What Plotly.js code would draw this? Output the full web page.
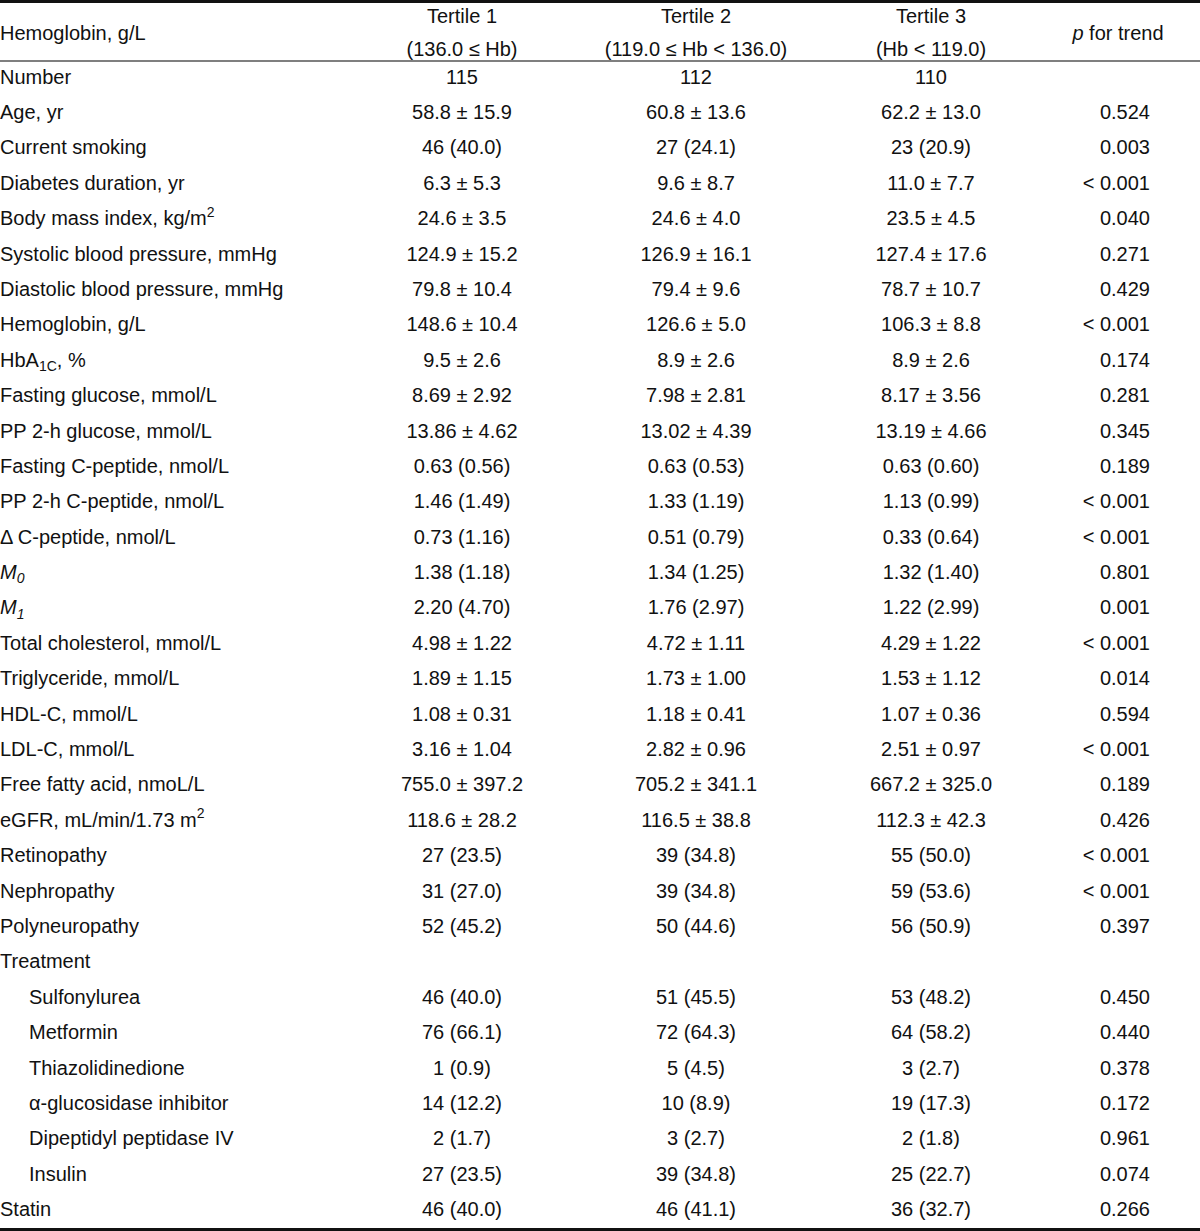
<!DOCTYPE html>
<html>
<head>
<meta charset="utf-8">
<script src="https://cdn.plot.ly/plotly-3.0.1.min.js"></script>
<style>html,body{margin:0;padding:0;background:#fff;}</style>
</head>
<body>
<div id="chart" style="width:1200px;height:1231px;"></div>
<script>
// ---------- data ----------
const headerLabel = "Hemoglobin, g/L";
const groupNames = ["Tertile 1", "Tertile 2", "Tertile 3"];
const groupRanges = ["(136.0 ≤ Hb)", "(119.0 ≤ Hb < 136.0)", "(Hb < 119.0)"];
const pHeader = "<i>p</i> for trend";

const labels = [
  "Number", "Age, yr", "Current smoking", "Diabetes duration, yr",
  "Body mass index, kg/m<sup>2</sup>", "Systolic blood pressure, mmHg",
  "Diastolic blood pressure, mmHg", "Hemoglobin, g/L", "HbA<sub>1C</sub>, %",
  "Fasting glucose, mmol/L", "PP 2-h glucose, mmol/L", "Fasting C-peptide, nmol/L",
  "PP 2-h C-peptide, nmol/L", "Δ C-peptide, nmol/L", "<i>M<sub>0</sub></i>", "<i>M<sub>1</sub></i>",
  "Total cholesterol, mmol/L", "Triglyceride, mmol/L", "HDL-C, mmol/L", "LDL-C, mmol/L",
  "Free fatty acid, nmoL/L", "eGFR, mL/min/1.73 m<sup>2</sup>", "Retinopathy", "Nephropathy",
  "Polyneuropathy", "Treatment", "Sulfonylurea", "Metformin", "Thiazolidinedione",
  "α-glucosidase inhibitor", "Dipeptidyl peptidase IV", "Insulin", "Statin"
];
// 1 = sub-item of "Treatment"
const level = [0,0,0,0,0,0,0,0,0,0,0,0,0,0,0,0,0,0,0,0,0,0,0,0,0,0,1,1,1,1,1,1,0];

const tertile1 = [
  "115", "58.8 ± 15.9", "46 (40.0)", "6.3 ± 5.3", "24.6 ± 3.5", "124.9 ± 15.2",
  "79.8 ± 10.4", "148.6 ± 10.4", "9.5 ± 2.6", "8.69 ± 2.92", "13.86 ± 4.62",
  "0.63 (0.56)", "1.46 (1.49)", "0.73 (1.16)", "1.38 (1.18)", "2.20 (4.70)",
  "4.98 ± 1.22", "1.89 ± 1.15", "1.08 ± 0.31", "3.16 ± 1.04", "755.0 ± 397.2",
  "118.6 ± 28.2", "27 (23.5)", "31 (27.0)", "52 (45.2)", "",
  "46 (40.0)", "76 (66.1)", "1 (0.9)", "14 (12.2)", "2 (1.7)", "27 (23.5)", "46 (40.0)"
];
const tertile2 = [
  "112", "60.8 ± 13.6", "27 (24.1)", "9.6 ± 8.7", "24.6 ± 4.0", "126.9 ± 16.1",
  "79.4 ± 9.6", "126.6 ± 5.0", "8.9 ± 2.6", "7.98 ± 2.81", "13.02 ± 4.39",
  "0.63 (0.53)", "1.33 (1.19)", "0.51 (0.79)", "1.34 (1.25)", "1.76 (2.97)",
  "4.72 ± 1.11", "1.73 ± 1.00", "1.18 ± 0.41", "2.82 ± 0.96", "705.2 ± 341.1",
  "116.5 ± 38.8", "39 (34.8)", "39 (34.8)", "50 (44.6)", "",
  "51 (45.5)", "72 (64.3)", "5 (4.5)", "10 (8.9)", "3 (2.7)", "39 (34.8)", "46 (41.1)"
];
const tertile3 = [
  "110", "62.2 ± 13.0", "23 (20.9)", "11.0 ± 7.7", "23.5 ± 4.5", "127.4 ± 17.6",
  "78.7 ± 10.7", "106.3 ± 8.8", "8.9 ± 2.6", "8.17 ± 3.56", "13.19 ± 4.66",
  "0.63 (0.60)", "1.13 (0.99)", "0.33 (0.64)", "1.32 (1.40)", "1.22 (2.99)",
  "4.29 ± 1.22", "1.53 ± 1.12", "1.07 ± 0.36", "2.51 ± 0.97", "667.2 ± 325.0",
  "112.3 ± 42.3", "55 (50.0)", "59 (53.6)", "56 (50.9)", "",
  "53 (48.2)", "64 (58.2)", "3 (2.7)", "19 (17.3)", "2 (1.8)", "25 (22.7)", "36 (32.7)"
];
const pTrend = [
  "", "0.524", "0.003", "< 0.001", "0.040", "0.271", "0.429", "< 0.001", "0.174",
  "0.281", "0.345", "0.189", "< 0.001", "< 0.001", "0.801", "0.001", "< 0.001",
  "0.014", "0.594", "< 0.001", "0.189", "0.426", "< 0.001", "< 0.001", "0.397", "",
  "0.450", "0.440", "0.378", "0.172", "0.961", "0.074", "0.266"
];

// ---------- layout constants ----------
const FONT = {family: "Liberation Sans, Arial, sans-serif", size: 20, color: "#111"};
const X_LABEL = 0, X_INDENT = 29;
const X_COLS = [462, 696, 931];
const X_P = 1150;
const X_PHEAD = 1118;
const HEAD1 = -1.70, HEAD2 = -0.79, HEADMID = -1.24;

function textTrace(xs, ys, texts, pos) {
  // skip empty cells
  const keep = texts.map((t, i) => i).filter(i => texts[i] !== "");
  return {type: "scatter", mode: "text",
          x: keep.map(i => xs[i]), y: keep.map(i => ys[i]), text: keep.map(i => texts[i]),
          textposition: pos, textfont: FONT, hoverinfo: "skip",
          cliponaxis: false, showlegend: false};
}

const rows = labels.map((_, i) => i);
const traces = [];
// row labels
traces.push(textTrace(rows.map(i => level[i] ? X_INDENT : X_LABEL), rows, labels, "middle right"));
// tertile columns
[tertile1, tertile2, tertile3].forEach((col, c) => {
  traces.push(textTrace(rows.map(() => X_COLS[c]), rows, col, "middle center"));
});
// p values (right-aligned)
traces.push(textTrace(rows.map(() => X_P), rows, pTrend, "middle left"));
// header
traces.push(textTrace([X_LABEL], [HEADMID], [headerLabel], "middle right"));
traces.push(textTrace(X_COLS, X_COLS.map(() => HEAD1), groupNames, "middle center"));
traces.push(textTrace(X_COLS, X_COLS.map(() => HEAD2), groupRanges, "middle center"));
traces.push(textTrace([X_PHEAD], [HEADMID], [pHeader], "middle center"));

const layout = {
  width: 1200, height: 1231,
  margin: {l: 0, r: 0, t: 0, b: 0, pad: 0},
  paper_bgcolor: "#fff", plot_bgcolor: "#fff",
  xaxis: {range: [0, 1200], visible: false, fixedrange: true},
  yaxis: {range: [32.56, -2.22], visible: false, fixedrange: true},
  showlegend: false,
  shapes: [
    {type: "line", xref: "paper", x0: 0, x1: 1, yref: "y", y0: -2.178, y1: -2.178, line: {color: "#111", width: 3}},
    {type: "line", xref: "paper", x0: 0, x1: 1, yref: "y", y0: -0.496, y1: -0.496, line: {color: "#555", width: 1.3}},
    {type: "line", xref: "paper", x0: 0, x1: 1, yref: "y", y0: 32.52, y1: 32.52, line: {color: "#111", width: 3}}
  ]
};

Plotly.newPlot("chart", traces, layout, {displayModeBar: false, staticPlot: true});
</script>
</body>
</html>
